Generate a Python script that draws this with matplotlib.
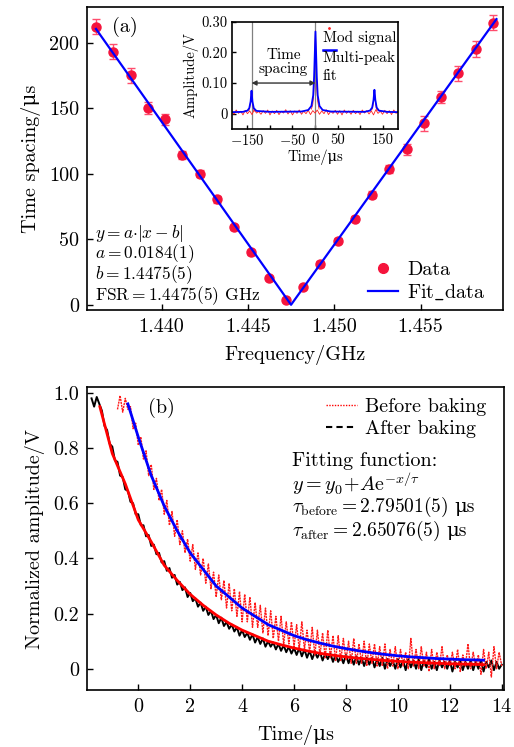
import numpy as np
import matplotlib.pyplot as plt
from matplotlib.lines import Line2D

plt.rcParams['font.family'] = ['cmr10', 'DejaVu Serif']
plt.rcParams['mathtext.fontset'] = 'cm'
plt.rcParams['axes.formatter.use_mathtext'] = True
plt.rcParams['axes.linewidth'] = 1.2

MU = '\u03bc'

# ---- (a) FSR: time spacing vs frequency
freq = [1.4362, 1.4372, 1.4382, 1.4392, 1.4402, 1.4412, 1.4422, 1.4432,
        1.4442, 1.4452, 1.4462, 1.4472, 1.4482, 1.4492, 1.4502, 1.4512,
        1.4522, 1.4532, 1.4542, 1.4552, 1.4562, 1.4572, 1.4582, 1.4592]
spacing = [212.2, 193.2, 175.0, 150.3, 141.4, 114.0, 100.1, 80.5,
           59.0, 40.0, 20.2, 3.6, 13.3, 31.1, 48.8, 65.8,
           84.1, 103.3, 118.6, 138.6, 158.4, 176.6, 195.2, 215.4]
spacing_err = [5.7, 5.7, 5.5, 4.4, 4.4, 3.0, 2.5, 2.5,
               2.0, 2.0, 1.5, 1.5, 1.5, 2.0, 2.0, 2.0,
               2.5, 3.0, 4.0, 5.7, 4.8, 5.6, 5.8, 5.8]
fit_freq = [1.4362, 1.4475, 1.4594]
fit_spacing = [210.5, 0.0, 218.0]

# inset: modulation signal and multi-peak fit
mod_base_t = np.arange(-185, 186, 5)
mod_base_v = [0.010, -0.002, 0.012, 0.001, 0.008, -0.004, 0.011, 0.000, 0.009, -0.003, 0.013, 0.002, 0.007, -0.002, 0.010,
              0.001, 0.012, -0.004, 0.009, 0.000, 0.011, -0.003, 0.008, 0.002, 0.013, -0.001, 0.010, -0.004, 0.009, 0.001,
              0.012, -0.002, 0.008, 0.000, 0.011, -0.003, 0.010, 0.002, 0.012, -0.002, 0.009, 0.000, 0.013, -0.003, 0.008,
              0.001, 0.011, -0.002, 0.010, -0.004, 0.012, 0.001, 0.009, -0.002, 0.011, 0.000, 0.008, -0.003, 0.012, 0.002,
              0.010, -0.001, 0.009, -0.004, 0.013, 0.001, 0.008, -0.002, 0.011, 0.000, 0.010, -0.003, 0.012, 0.001, 0.009]
peak1_t = [-147, -145, -143, -142, -141, -140, -139, -137, -135]
peak1_v = [0.010, 0.020, 0.040, 0.060, 0.072, 0.060, 0.035, 0.020, 0.008]
peak2_t = [-8, -5, -3, -2, -1, 0, 1, 2, 3, 4, 6, 9]
peak2_v = [0.015, 0.030, 0.060, 0.100, 0.160, 0.220, 0.270, 0.200, 0.130, 0.080, 0.040, 0.015]
peak3_t = [126, 128, 130, 131, 132, 133, 134, 136, 138]
peak3_v = [0.012, 0.020, 0.040, 0.060, 0.077, 0.060, 0.040, 0.018, 0.010]
mfit_t = [-185, -160, -150, -146, -143, -141, -139, -136, -130, -100, -30, -15, -8, -4, -2, 1,
          4, 6, 10, 17, 35, 110, 122, 127, 130, 132, 134, 137, 142, 160, 185]
mfit_v = [0.005, 0.006, 0.010, 0.018, 0.040, 0.075, 0.040, 0.018, 0.009, 0.006, 0.007, 0.012, 0.025, 0.060, 0.120, 0.268,
          0.120, 0.060, 0.025, 0.012, 0.007, 0.006, 0.010, 0.020, 0.045, 0.078, 0.045, 0.020, 0.010, 0.006, 0.005]
peak_marks = [-141, 1]

# ---- (b) ring-down traces, one value every 0.1 us
after_start = -1.8
after_v = [0.98, 0.95, 0.985, 0.96, 0.935, 0.88, 0.865, 0.815,
           0.805, 0.755, 0.75, 0.70, 0.695, 0.65, 0.645, 0.605, 0.60, 0.56,
           0.56, 0.52, 0.52, 0.48, 0.485, 0.445, 0.45, 0.415, 0.42, 0.385,
           0.39, 0.355, 0.365, 0.33, 0.34, 0.305, 0.315, 0.285, 0.295, 0.26,
           0.275, 0.245, 0.255, 0.225, 0.24, 0.21, 0.225, 0.195, 0.21, 0.18,
           0.195, 0.165, 0.185, 0.155, 0.17, 0.145, 0.16, 0.135, 0.15, 0.12,
           0.14, 0.115, 0.13, 0.105, 0.125, 0.095, 0.115, 0.09, 0.11, 0.08,
           0.10, 0.08, 0.095, 0.07, 0.09, 0.065, 0.085, 0.06, 0.08, 0.055,
           0.075, 0.05, 0.075, 0.045, 0.07, 0.04, 0.065, 0.035, 0.06, 0.04,
           0.06, 0.03, 0.055, 0.035, 0.055, 0.025, 0.05, 0.025, 0.045, 0.02,
           0.05, 0.02, 0.045, 0.015, 0.045, 0.015, 0.04, 0.01, 0.04, 0.015,
           0.04, 0.005, 0.035, 0.01, 0.04, 0.0, 0.035, 0.01, 0.03, 0.0,
           0.035, 0.005, 0.03, -0.005, 0.035, 0.005, 0.03, 0.0, 0.035, -0.005,
           0.03, 0.005, 0.035, 0.0, 0.025, -0.005, 0.03, 0.005, 0.025, 0.0,
           0.03, -0.01, 0.025, 0.005, 0.03, -0.005, 0.025, 0.0, 0.03, -0.005,
           0.025, 0.0, 0.03, -0.01, 0.025, 0.005, 0.03, -0.005, 0.025, 0.0,
           0.015]
before_start = -0.8
before_v = [0.94, 0.99, 0.93, 0.98, 0.94, 0.95, 0.87, 0.89,
            0.81, 0.84, 0.76, 0.79, 0.70, 0.74, 0.65, 0.69, 0.61, 0.65,
            0.56, 0.61, 0.52, 0.57, 0.48, 0.54, 0.45, 0.50, 0.42, 0.47,
            0.39, 0.45, 0.36, 0.42, 0.34, 0.40, 0.31, 0.38, 0.29, 0.35,
            0.26, 0.34, 0.25, 0.32, 0.22, 0.31, 0.21, 0.29, 0.19, 0.28,
            0.17, 0.27, 0.17, 0.26, 0.15, 0.24, 0.15, 0.23, 0.13, 0.22,
            0.12, 0.21, 0.11, 0.19, 0.10, 0.19, 0.09, 0.17, 0.09, 0.17,
            0.08, 0.16, 0.07, 0.17, 0.07, 0.14, 0.06, 0.15, 0.05, 0.14,
            0.05, 0.13, 0.04, 0.14, 0.04, 0.12, 0.03, 0.12, 0.03, 0.11,
            0.03, 0.10, 0.02, 0.11, 0.02, 0.09, 0.02, 0.10, 0.01, 0.09,
            0.02, 0.09, 0.01, 0.08, 0.01, 0.09, 0.00, 0.07, 0.01, 0.08,
            0.00, 0.07, 0.01, 0.06, 0.00, 0.11, 0.01, 0.07, 0.00, 0.08,
            0.01, 0.06, -0.01, 0.07, 0.00, 0.06, 0.01, 0.08, 0.00, 0.05,
            0.01, 0.06, 0.00, 0.07, -0.01, 0.05, 0.01, 0.09, 0.00, 0.06,
            0.01, 0.05, -0.02, 0.07, 0.00, 0.06, -0.03, 0.08, 0.00, 0.06,
            0.01]
t_after = np.round(after_start + 0.1 * np.arange(len(after_v)), 2)
t_before = np.round(before_start + 0.1 * np.arange(len(before_v)), 2)

# fitted curves
afit_t = [-1.48, -1.0, -0.5, 0.0, 0.5, 1.0, 1.5, 2.0, 2.5, 3.0, 3.5, 4.0, 4.5, 5.0, 5.5, 6.0,
          6.5, 7.0, 7.5, 8.0, 8.5, 9.0, 9.5, 10.0, 10.5, 11.0, 11.5, 12.0, 12.5, 13.0, 13.3]
afit_v = [0.95, 0.78, 0.67, 0.54, 0.46, 0.375, 0.32, 0.27, 0.23, 0.195, 0.165, 0.14, 0.12, 0.10, 0.087, 0.075,
          0.065, 0.056, 0.049, 0.043, 0.038, 0.034, 0.030, 0.027, 0.024, 0.022, 0.020, 0.018, 0.017, 0.016, 0.015]
bfit_t = [-0.4, 0.0, 0.5, 1.0, 1.5, 2.0, 2.5, 3.0, 3.5, 4.0, 4.5, 5.0, 5.5, 6.0, 6.5,
          7.0, 7.5, 8.0, 8.5, 9.0, 9.5, 10.0, 10.5, 11.0, 11.5, 12.0, 12.5, 13.0, 13.3]
bfit_v = [0.96, 0.84, 0.70, 0.59, 0.50, 0.42, 0.36, 0.30, 0.26, 0.22, 0.19, 0.16, 0.14, 0.12, 0.105,
          0.093, 0.082, 0.073, 0.065, 0.058, 0.052, 0.047, 0.043, 0.040, 0.037, 0.035, 0.033, 0.032, 0.031]

red = '#f5143c'
FS = 14.5

fig = plt.figure(figsize=(5.14, 7.47), dpi=100)

# ================= panel (a)
ax1 = fig.add_axes([0.170, 0.585, 0.8093, 0.4052])
ax1.errorbar(freq, spacing, yerr=spacing_err, fmt='none', ecolor='#ff4d6d',
             elinewidth=1.0, capsize=3, capthick=1.0)
ax1.plot(freq, spacing, 'o', color=red, ms=6.5, zorder=3)
ax1.plot(fit_freq, fit_spacing, color='#0000ff', lw=1.6, zorder=4)
ax1.set_xlim(1.4357, 1.4598)
ax1.set_ylim(-4, 227)
ax1.set_xticks([1.440, 1.445, 1.450, 1.455])
ax1.set_xticklabels(['1.440', '1.445', '1.450', '1.455'])
ax1.set_yticks([0, 50, 100, 150, 200])
ax1.set_yticklabels(['0', '50', '100', '150', '200'])
ax1.tick_params(direction='in', length=4, width=1, labelsize=FS, pad=6)
ax1.set_xlabel('Frequency/GHz', fontsize=FS, labelpad=6)
ax1.set_ylabel('Time spacing/' + MU + 's', fontsize=FS, labelpad=6)
ax1.text(0.058, 0.936, '(a)', transform=ax1.transAxes, fontsize=FS, va='center')
fit_lines = [r'$y=a{\cdot}|x-b|$', r'$a=0.0184(1)$', r'$b=1.4475(5)$', r'$\mathrm{FSR}=1.4475(5)$ GHz']
ax1.text(0.018, 0.148, '\n'.join(fit_lines), transform=ax1.transAxes, fontsize=12.5,
         va='center', ha='left', linespacing=0.9)
h_data = Line2D([], [], ls='none', marker='o', color=red, ms=7)
h_fit = Line2D([], [], color='#0000ff', lw=1.6)
ax1.legend([h_data, h_fit], ['Data', r'Fit$\_$data'], loc='lower right', bbox_to_anchor=(1.0, -0.035),
           frameon=False, fontsize=FS, handlelength=1.5, handletextpad=0.45, labelspacing=0.2)

# ================= inset
axi = fig.add_axes([0.4508, 0.8273, 0.3241, 0.1436])
for xm in peak_marks:
    axi.axvline(xm, color='#808080', lw=0.9)
axi.plot(mod_base_t, mod_base_v, color='#ff2020', lw=0.6)
axi.plot(peak1_t, peak1_v, color='#ff2020', lw=0.6)
axi.plot(peak2_t, peak2_v, color='#ff2020', lw=0.6)
axi.plot(peak3_t, peak3_v, color='#ff2020', lw=0.6)
axi.plot(mfit_t, mfit_v, color='#0000ff', lw=1.3)
axi.annotate('', xy=(peak_marks[0], 0.10), xytext=(peak_marks[1], 0.10),
             arrowprops=dict(arrowstyle='<|-|>', color='#333333', lw=1.0, mutation_scale=7,
                             shrinkA=0, shrinkB=0))
axi.text(-70, 0.168, 'Time\nspacing', ha='center', va='center', fontsize=11, linespacing=1.0)
axi.set_xlim(-185, 185)
axi.set_ylim(-0.05, 0.30)
axi.set_xticks([-150, -100, -50, 0, 50, 100, 150])
axi.set_xticklabels([r'$-150$', '', r'$-50$', '0', '50', '', '150'])
axi.set_yticks([0, 0.10, 0.20, 0.30])
axi.set_yticklabels(['0', '0.10', '0.20', '0.30'])
axi.tick_params(direction='in', length=3, width=1, labelsize=10.5, pad=3)
axi.set_xlabel('Time/' + MU + 's', fontsize=10.5, labelpad=1)
axi.set_ylabel('Amplitude/V', fontsize=10.5, labelpad=2)
axi.plot([0.584], [0.944], '.', color='#ff2020', ms=2, transform=axi.transAxes)
axi.plot([0.548, 0.626], [0.736, 0.736], color='#0000ff', lw=1.8, transform=axi.transAxes)
axi.text(0.546, 0.845, 'Mod signal', transform=axi.transAxes, fontsize=11, va='center')
axi.text(0.546, 0.66, 'Multi-peak', transform=axi.transAxes, fontsize=11, va='center')
axi.text(0.546, 0.495, 'fit', transform=axi.transAxes, fontsize=11, va='center')

# ================= panel (b)
ax2 = fig.add_axes([0.170, 0.0763, 0.8107, 0.4052])
ax2.plot(t_after, after_v, color='black', lw=1.4)
ax2.plot(t_before, before_v, color='#ff1a1a', lw=1.0, ls=(0, (1.5, 0.6)))
ax2.plot(afit_t, afit_v, color='#ff0000', lw=2.0)
ax2.plot(bfit_t, bfit_v, color='#0000ff', lw=2.0)
ax2.set_xlim(-1.96, 14.09)
ax2.set_ylim(-0.077, 1.02)
ax2.set_xticks(range(0, 15, 2))
ax2.set_xticklabels([str(v) for v in range(0, 15, 2)])
ax2.set_yticks([0, 0.2, 0.4, 0.6, 0.8, 1.0])
ax2.set_yticklabels(['0', '0.2', '0.4', '0.6', '0.8', '1.0'])
ax2.tick_params(direction='in', length=4, width=1, labelsize=FS, pad=6)
ax2.set_xlabel('Time/' + MU + 's', fontsize=FS, labelpad=6)
ax2.set_ylabel('Normalized amplitude/V', fontsize=FS, labelpad=6)
ax2.text(0.146, 0.932, '(b)', transform=ax2.transAxes, fontsize=FS, va='center')
h_before = Line2D([], [], color='#ff0000', lw=1.0, ls=(0, (1, 1)))
h_after = Line2D([], [], color='black', lw=1.5, ls=(0, (3, 2)))
ax2.legend([h_before, h_after], ['Before baking', 'After baking'], loc='upper left',
           bbox_to_anchor=(0.53, 1.025), frameon=False, fontsize=FS, handlelength=1.5,
           handletextpad=0.4, labelspacing=0.2)
ax2.text(0.492, 0.755, 'Fitting function:', transform=ax2.transAxes, fontsize=FS, va='center')
ax2.text(0.492, 0.683, r'$y=y_0\!+\!A\mathrm{e}^{-x/\tau}$', transform=ax2.transAxes, fontsize=FS, va='center')
tau_lines = [(0.588, r'$\tau_{\mathrm{before}}=2.79501(5)$'), (0.510, r'$\tau_{\mathrm{after}}=2.65076(5)$')]
for ty, txt in tau_lines:
    t = ax2.text(0.492, ty, txt, transform=ax2.transAxes, fontsize=14, va='baseline')
    ax2.annotate(MU + 's', xy=(1.0, ty), xycoords=(t, 'axes fraction'), xytext=(4, 0),
                 textcoords='offset points', fontsize=14, ha='left', va='baseline')

fig.savefig('out.png', dpi=100)
